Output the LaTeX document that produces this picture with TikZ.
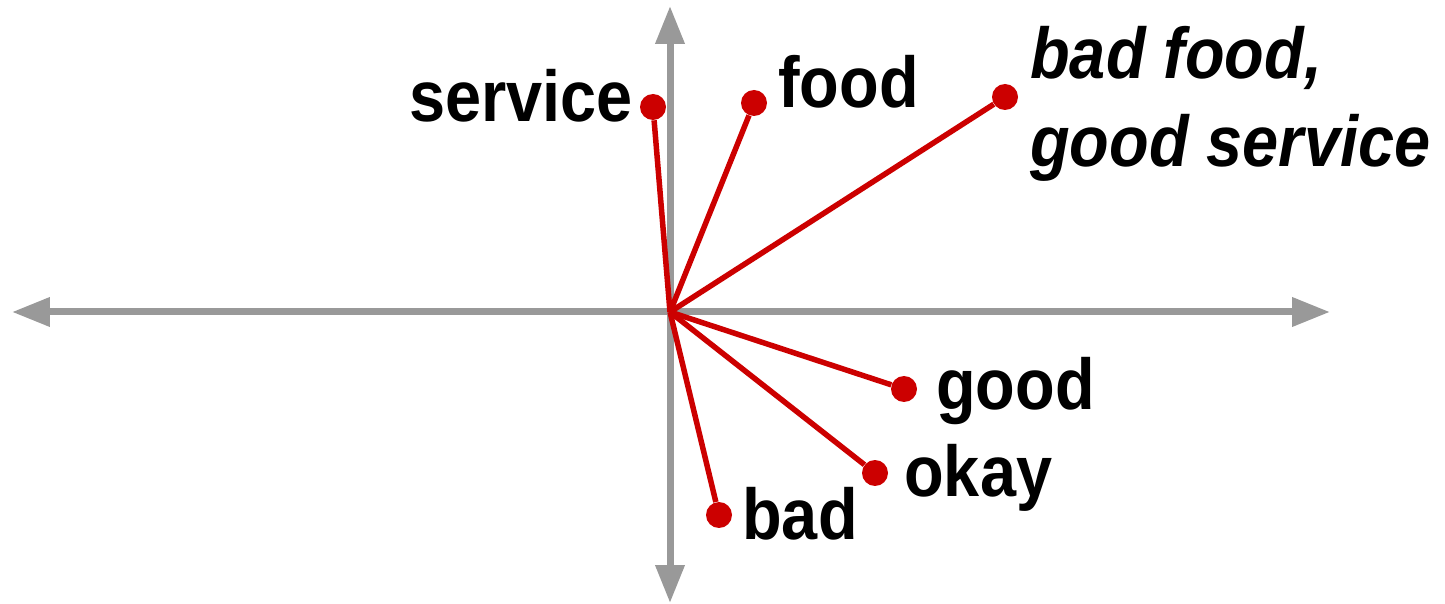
\documentclass[tikz,border=0pt]{standalone}
\usepackage{fontspec}
\setmainfont[FakeStretch=0.9]{Liberation Sans}
\usepackage{tikz}
\usetikzlibrary{arrows.meta}
\definecolor{axisgray}{RGB}{153,153,153}
\definecolor{vecred}{RGB}{204,0,0}

\begin{document}
\begin{tikzpicture}[x=0.02cm, y=-0.02cm,
  axis/.style={axisgray, line width=0.14cm, {Triangle[length=0.76cm, width=0.56cm]}-{Triangle[length=0.76cm, width=0.56cm]}},
  vec/.style={vecred, line width=0.11cm},
  dot/.style={circle, fill=vecred, minimum size=0.52cm, inner sep=0pt},
  word/.style={font=\fontsize{41}{50.6}\selectfont\bfseries, inner sep=0pt, align=left}
]
\useasboundingbox (0,0) rectangle (1445,604);
\coordinate (O) at (670,312);
\coordinate (xl) at (12,312);
\coordinate (xr) at (1330,312);
\coordinate (yt) at (670,6);
\coordinate (yb) at (670,603);
\draw[axis] (xl) -- (xr);
\draw[axis] (yt) -- (yb);
\node[dot] (service) at (653,107) {};
\node[dot] (food) at (754,103) {};
\node[dot] (mixed) at (1005,97) {};
\node[dot] (good) at (904,389) {};
\node[dot] (okay) at (875,473) {};
\node[dot] (bad) at (719,515) {};
\foreach \w in {service,food,mixed,good,okay,bad}
  \draw[vec] (O) -- (\w);
\node[word, anchor=base east] (servicetext) at (633,122) {service};
\node[word, anchor=base west] (foodtext) at (778,108) {food};
\node[word, anchor=base west, font=\fontsize{41}{50.6}\selectfont\bfseries\itshape] (mixedtext) at (1030,167) {bad food,\\good service};
\node[word, anchor=base west] (goodtext) at (936,410) {good};
\node[word, anchor=base west] (okaytext) at (904,497) {okay};
\node[word, anchor=base west] (badtext) at (742,540) {bad};
\end{tikzpicture}
\end{document}
